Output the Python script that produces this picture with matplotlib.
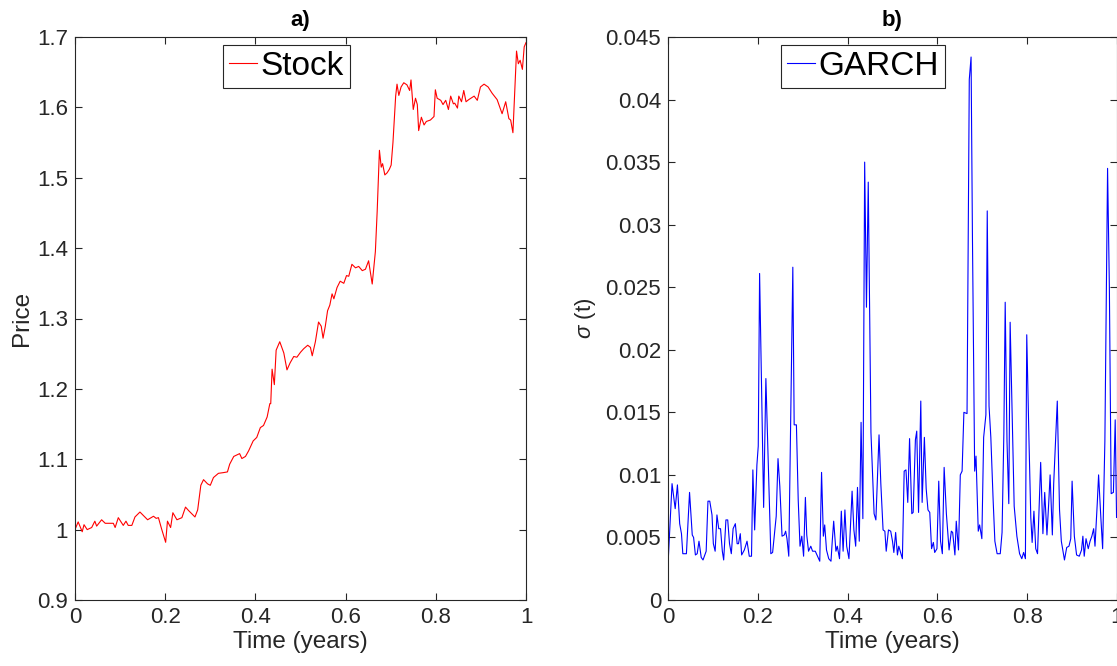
import matplotlib
matplotlib.use("Agg")
import matplotlib.pyplot as plt

plt.rcParams["font.family"] = ["Liberation Sans", "DejaVu Sans"]
plt.rcParams["mathtext.fontset"] = "custom"
plt.rcParams["mathtext.it"] = "Liberation Sans:italic"
plt.rcParams["mathtext.rm"] = "Liberation Sans"

# stock price path (time in years, price)
stock_t = [0.000, 0.007, 0.016, 0.020, 0.027, 0.037, 0.044, 0.048, 0.059, 0.067,
           0.085, 0.089, 0.096, 0.107, 0.113, 0.118, 0.126, 0.133, 0.144, 0.161,
           0.174, 0.180, 0.185, 0.192, 0.201, 0.205, 0.212, 0.217, 0.226, 0.237,
           0.245, 0.252, 0.266, 0.272, 0.279, 0.285, 0.294, 0.300, 0.307, 0.318,
           0.329, 0.338, 0.343, 0.352, 0.365, 0.370, 0.378, 0.385, 0.395, 0.403,
           0.411, 0.418, 0.426, 0.432, 0.434, 0.437, 0.442, 0.446, 0.454, 0.463,
           0.470, 0.477, 0.485, 0.492, 0.500, 0.507, 0.516, 0.522, 0.526, 0.533,
           0.540, 0.546, 0.550, 0.555, 0.560, 0.565, 0.570, 0.574, 0.581, 0.588,
           0.596, 0.602, 0.607, 0.614, 0.622, 0.629, 0.637, 0.644, 0.651, 0.659,
           0.666, 0.670, 0.675, 0.679, 0.682, 0.687, 0.692, 0.697, 0.701, 0.705,
           0.711, 0.714, 0.718, 0.723, 0.729, 0.736, 0.742, 0.745, 0.750, 0.755,
           0.759, 0.762, 0.768, 0.774, 0.779, 0.788, 0.796, 0.799, 0.803, 0.811,
           0.816, 0.822, 0.828, 0.833, 0.839, 0.842, 0.848, 0.851, 0.857, 0.862,
           0.867, 0.873, 0.885, 0.892, 0.899, 0.907, 0.916, 0.925, 0.936, 0.947,
           0.955, 0.962, 0.966, 0.971, 0.979, 0.983, 0.987, 0.992, 0.996, 1.000]
stock_price = [1.000, 1.011, 0.997, 1.007, 1.000, 1.003, 1.012, 1.005, 1.014, 1.009,
               1.009, 1.003, 1.017, 1.006, 1.012, 1.006, 1.006, 1.018, 1.025, 1.014,
               1.019, 1.016, 1.017, 1.001, 0.982, 1.012, 1.003, 1.024, 1.014, 1.017,
               1.032, 1.027, 1.018, 1.028, 1.063, 1.071, 1.065, 1.063, 1.074, 1.080,
               1.081, 1.082, 1.093, 1.104, 1.108, 1.101, 1.104, 1.112, 1.126, 1.131,
               1.145, 1.148, 1.160, 1.179, 1.179, 1.228, 1.206, 1.255, 1.267, 1.251,
               1.227, 1.237, 1.246, 1.245, 1.252, 1.257, 1.262, 1.259, 1.247, 1.267,
               1.295, 1.289, 1.272, 1.289, 1.311, 1.319, 1.335, 1.328, 1.344, 1.353,
               1.350, 1.361, 1.360, 1.377, 1.372, 1.374, 1.368, 1.370, 1.382, 1.349,
               1.395, 1.452, 1.539, 1.515, 1.520, 1.504, 1.507, 1.512, 1.518, 1.550,
               1.616, 1.633, 1.617, 1.629, 1.635, 1.632, 1.624, 1.639, 1.597, 1.613,
               1.604, 1.567, 1.586, 1.575, 1.580, 1.582, 1.587, 1.625, 1.613, 1.610,
               1.604, 1.610, 1.597, 1.616, 1.605, 1.606, 1.599, 1.616, 1.608, 1.624,
               1.608, 1.611, 1.616, 1.610, 1.629, 1.633, 1.629, 1.620, 1.611, 1.591,
               1.608, 1.584, 1.582, 1.564, 1.680, 1.662, 1.667, 1.654, 1.686, 1.692]

# GARCH conditional volatility
garch_t = [0.000, 0.009, 0.016, 0.021, 0.026, 0.030, 0.033, 0.041, 0.048, 0.054,
           0.057, 0.061, 0.065, 0.069, 0.074, 0.078, 0.085, 0.089, 0.093, 0.098,
           0.101, 0.105, 0.109, 0.113, 0.117, 0.121, 0.124, 0.129, 0.133, 0.137,
           0.141, 0.145, 0.150, 0.154, 0.157, 0.161, 0.164, 0.170, 0.176, 0.181,
           0.186, 0.189, 0.193, 0.198, 0.201, 0.204, 0.213, 0.218, 0.229, 0.233,
           0.241, 0.245, 0.249, 0.254, 0.259, 0.262, 0.265, 0.269, 0.278, 0.281,
           0.286, 0.290, 0.294, 0.298, 0.302, 0.306, 0.309, 0.313, 0.318, 0.322,
           0.328, 0.333, 0.338, 0.342, 0.346, 0.349, 0.353, 0.358, 0.363, 0.366,
           0.369, 0.374, 0.377, 0.382, 0.386, 0.390, 0.394, 0.398, 0.403, 0.410,
           0.414, 0.418, 0.422, 0.426, 0.430, 0.434, 0.438, 0.442, 0.446, 0.452,
           0.459, 0.463, 0.470, 0.474, 0.479, 0.483, 0.486, 0.491, 0.496, 0.500,
           0.503, 0.507, 0.511, 0.514, 0.518, 0.522, 0.526, 0.530, 0.534, 0.538,
           0.543, 0.546, 0.551, 0.554, 0.558, 0.563, 0.566, 0.571, 0.575, 0.579,
           0.583, 0.587, 0.591, 0.594, 0.599, 0.603, 0.607, 0.611, 0.615, 0.620,
           0.626, 0.631, 0.634, 0.639, 0.642, 0.647, 0.651, 0.655, 0.659, 0.666,
           0.671, 0.675, 0.678, 0.683, 0.686, 0.691, 0.694, 0.699, 0.703, 0.708,
           0.711, 0.715, 0.719, 0.724, 0.728, 0.733, 0.740, 0.744, 0.748, 0.751,
           0.755, 0.759, 0.762, 0.767, 0.771, 0.777, 0.783, 0.788, 0.792, 0.796,
           0.799, 0.804, 0.808, 0.811, 0.815, 0.819, 0.823, 0.827, 0.830, 0.835,
           0.839, 0.844, 0.848, 0.851, 0.856, 0.859, 0.867, 0.872, 0.876, 0.883,
           0.888, 0.893, 0.897, 0.900, 0.905, 0.910, 0.916, 0.921, 0.924, 0.927,
           0.931, 0.936, 0.940, 0.944, 0.948, 0.951, 0.956, 0.959, 0.964, 0.968,
           0.973, 0.979, 0.983, 0.987, 0.992, 0.996, 0.999]
garch_sigma = [0.0028, 0.0093, 0.0073, 0.0092, 0.0061, 0.0053, 0.0037, 0.0037, 0.0086, 0.0052,
               0.0050, 0.0036, 0.0037, 0.0047, 0.0034, 0.0032, 0.0039, 0.0079, 0.0079, 0.0068,
               0.0045, 0.0039, 0.0068, 0.0057, 0.0057, 0.0039, 0.0032, 0.0064, 0.0064, 0.0045,
               0.0037, 0.0057, 0.0061, 0.0045, 0.0045, 0.0053, 0.0036, 0.0040, 0.0047, 0.0035,
               0.0035, 0.0104, 0.0056, 0.0108, 0.0123, 0.0261, 0.0074, 0.0177, 0.0037, 0.0038,
               0.0067, 0.0113, 0.0091, 0.0051, 0.0052, 0.0055, 0.0049, 0.0035, 0.0266, 0.0140,
               0.0140, 0.0080, 0.0043, 0.0051, 0.0035, 0.0082, 0.0052, 0.0039, 0.0043, 0.0039,
               0.0039, 0.0035, 0.0031, 0.0102, 0.0051, 0.0060, 0.0040, 0.0033, 0.0031, 0.0048,
               0.0063, 0.0039, 0.0043, 0.0033, 0.0071, 0.0039, 0.0072, 0.0043, 0.0033, 0.0087,
               0.0056, 0.0043, 0.0090, 0.0047, 0.0142, 0.0065, 0.0350, 0.0234, 0.0334, 0.0134,
               0.0069, 0.0064, 0.0132, 0.0093, 0.0056, 0.0055, 0.0039, 0.0056, 0.0055, 0.0047,
               0.0038, 0.0054, 0.0036, 0.0043, 0.0038, 0.0033, 0.0103, 0.0104, 0.0078, 0.0129,
               0.0069, 0.0070, 0.0128, 0.0135, 0.0070, 0.0159, 0.0078, 0.0130, 0.0089, 0.0072,
               0.0070, 0.0041, 0.0046, 0.0038, 0.0041, 0.0095, 0.0047, 0.0037, 0.0106, 0.0069,
               0.0040, 0.0055, 0.0054, 0.0036, 0.0063, 0.0040, 0.0100, 0.0103, 0.0150, 0.0149,
               0.0416, 0.0434, 0.0292, 0.0103, 0.0115, 0.0055, 0.0060, 0.0049, 0.0130, 0.0148,
               0.0311, 0.0155, 0.0130, 0.0081, 0.0047, 0.0037, 0.0037, 0.0054, 0.0133, 0.0238,
               0.0127, 0.0077, 0.0222, 0.0139, 0.0075, 0.0051, 0.0037, 0.0033, 0.0038, 0.0033,
               0.0212, 0.0127, 0.0066, 0.0046, 0.0071, 0.0041, 0.0037, 0.0078, 0.0110, 0.0053,
               0.0086, 0.0052, 0.0078, 0.0100, 0.0052, 0.0093, 0.0159, 0.0072, 0.0047, 0.0032,
               0.0042, 0.0043, 0.0049, 0.0095, 0.0051, 0.0036, 0.0035, 0.0040, 0.0051, 0.0035,
               0.0049, 0.0041, 0.0047, 0.0051, 0.0057, 0.0043, 0.0077, 0.0100, 0.0066, 0.0041,
               0.0127, 0.0345, 0.0250, 0.0085, 0.0086, 0.0144, 0.0066]

x_ticks = [0, 0.2, 0.4, 0.6, 0.8, 1]
x_labels = ["0", "0.2", "0.4", "0.6", "0.8", "1"]
price_ticks = [0.9, 1.0, 1.1, 1.2, 1.3, 1.4, 1.5, 1.6, 1.7]
price_labels = ["0.9", "1", "1.1", "1.2", "1.3", "1.4", "1.5", "1.6", "1.7"]
sigma_ticks = [0, 0.005, 0.01, 0.015, 0.02, 0.025, 0.03, 0.035, 0.04, 0.045]
sigma_labels = ["0", "0.005", "0.01", "0.015", "0.02", "0.025", "0.03", "0.035", "0.04", "0.045"]

W, H = 1117, 666
fig = plt.figure(figsize=(W / 100, H / 100), dpi=100)
ax1 = fig.add_axes([75 / W, 66 / H, 451 / W, 563 / H])
ax2 = fig.add_axes([668 / W, 66 / H, 449 / W, 563 / H])

edge = (0.15, 0.15, 0.15)


def matlab_style(ax):
    for s in ax.spines.values():
        s.set_color(edge)
        s.set_linewidth(0.8)
    ax.tick_params(direction="in", length=5, width=0.8, color=edge,
                   labelcolor=edge, labelsize=16, pad=5,
                   top=True, right=True)


ax1.plot(stock_t, stock_price, color="red", lw=0.8, label="Stock")
ax1.set_xlim(0, 1)
ax1.set_ylim(0.9, 1.7)
ax1.set_xticks(x_ticks, x_labels)
ax1.set_yticks(price_ticks, price_labels)
ax1.set_xlabel("Time (years)", fontsize=17.5, color=edge, labelpad=2)
ax1.set_ylabel("Price", fontsize=17.5, color=edge, labelpad=3)
ax1.set_title("a)", fontsize=16, fontweight="bold", pad=8)
matlab_style(ax1)

ax2.plot(garch_t, garch_sigma, color="blue", lw=0.8, label="GARCH")
ax2.set_xlim(0, 1)
ax2.set_ylim(0, 0.045)
ax2.set_xticks(x_ticks, x_labels)
ax2.set_yticks(sigma_ticks, sigma_labels)
ax2.set_xlabel("Time (years)", fontsize=17.5, color=edge, labelpad=2)
ax2.set_ylabel(r"$\sigma$ (t)", fontsize=16, color=edge, labelpad=5)
ax2.set_title("b)", fontsize=16, fontweight="bold", pad=8)
matlab_style(ax2)

for ax, anchor_x in [(ax1, 0.3275), (ax2, 0.251)]:
    leg = ax.legend(loc="upper left", bbox_to_anchor=(anchor_x, 0.986),
                    fontsize=24, frameon=True, fancybox=False, framealpha=1,
                    edgecolor=edge, borderpad=0.18, borderaxespad=0,
                    handlelength=0.85, handletextpad=0.1)
    leg.get_frame().set_linewidth(0.8)

fig.savefig("out.png", dpi=100)
